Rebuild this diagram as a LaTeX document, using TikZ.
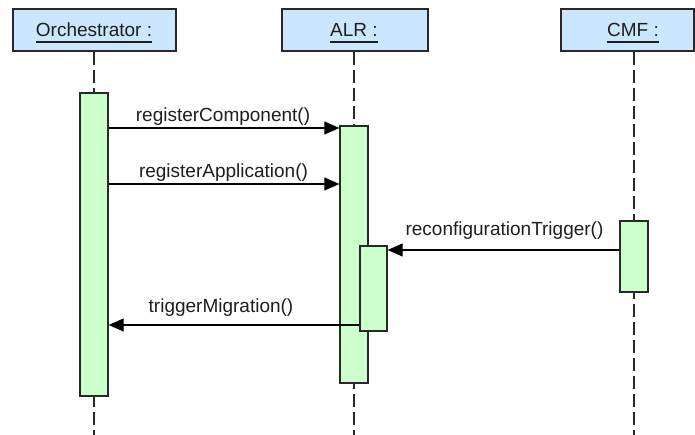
\documentclass[tikz,border=0pt]{standalone}
\usepackage{fontspec}
\setmainfont{Liberation Sans}
\usetikzlibrary{arrows.meta}

\definecolor{headfill}{RGB}{204,230,255}
\definecolor{barfill}{RGB}{204,255,204}
\definecolor{edge}{RGB}{40,40,40}
\definecolor{ink}{RGB}{30,30,30}

\tikzset{
  head/.style={draw=edge, line width=1.3pt, fill=headfill, rectangle,
               minimum height=42pt, inner sep=0pt},
  headtext/.style={inner sep=0pt, anchor=base, text=ink,
                   font=\fontsize{19}{21}\selectfont},
  uline/.style={draw=ink, line width=1.1pt},
  lifeline/.style={draw=edge, line width=1.3pt, dash pattern=on 13pt off 5pt},
  actbar/.style={draw=edge, line width=1.3pt, fill=barfill, rectangle,
                 minimum width=28pt, inner sep=0pt},
  msg/.style={draw=black, line width=1.1pt,
              -{Triangle[length=15pt,width=13pt]}},
  msgtext/.style={inner sep=0pt, anchor=base, text=ink,
                  font=\fontsize{19}{21}\selectfont},
}

\begin{document}
\begin{tikzpicture}[x=1pt,y=-1pt]
  \useasboundingbox (0,0) rectangle (695,435);

  % object headers
  \node[head, minimum width=163pt] (orch) at (94.5,30) {};
  \node[head, minimum width=146pt] (alr)  at (355,30) {};
  \node[head, minimum width=133pt] (cmf)  at (627.5,30) {};
  \node[headtext] (orchl) at (94,37) {Orchestrator :};
  \node[headtext] (alrl)  at (354,37) {ALR :};
  \node[headtext] (cmfl)  at (633,37) {CMF :};

  % underlined object names
  \foreach \n in {orchl,alrl,cmfl}
    \draw[uline] ([yshift=-5pt]\n.base west) -- ([yshift=-5pt]\n.base east);

  % lifeline ends
  \coordinate (orchend) at (94,435);
  \coordinate (alrend)  at (354,435);
  \coordinate (cmfend)  at (634,435);

  % lifelines
  \draw[lifeline] (orch.south -| orchend) -- (orchend);
  \draw[lifeline] (alr.south -| alrend) -- (alrend);
  \draw[lifeline] (cmf.south -| cmfend) -- (cmfend);

  % activation bars
  \node[actbar, minimum height=303pt] (orchB) at (94,244.5) {};
  \node[actbar, minimum height=257pt] (alrA)  at (354,254.5) {};
  \node[actbar, minimum height=85pt, minimum width=27pt] (alrB) at (373.5,288.5) {};
  \node[actbar, minimum height=71pt] (cmfA)  at (634,256.5) {};

  % messages
  \draw[msg] (orchB.east |- 0,128) -- (alrA.west |- 0,128);
  \node[msgtext] (m1) at (223,122) {registerComponent()};

  \draw[msg] (orchB.east |- 0,184) -- (alrA.west |- 0,184);
  \node[msgtext] (m2) at (223.5,177.5) {registerApplication()};

  \draw[msg] (cmfA.west |- 0,250) -- (alrB.east |- 0,250);
  \node[msgtext] (m3) at (504.5,236) {reconfigurationTrigger()};

  \draw[msg] (alrB.west |- 0,325) -- (orchB.east |- 0,325);
  \node[msgtext] (m4) at (221,312) {triggerMigration()};
\end{tikzpicture}
\end{document}
